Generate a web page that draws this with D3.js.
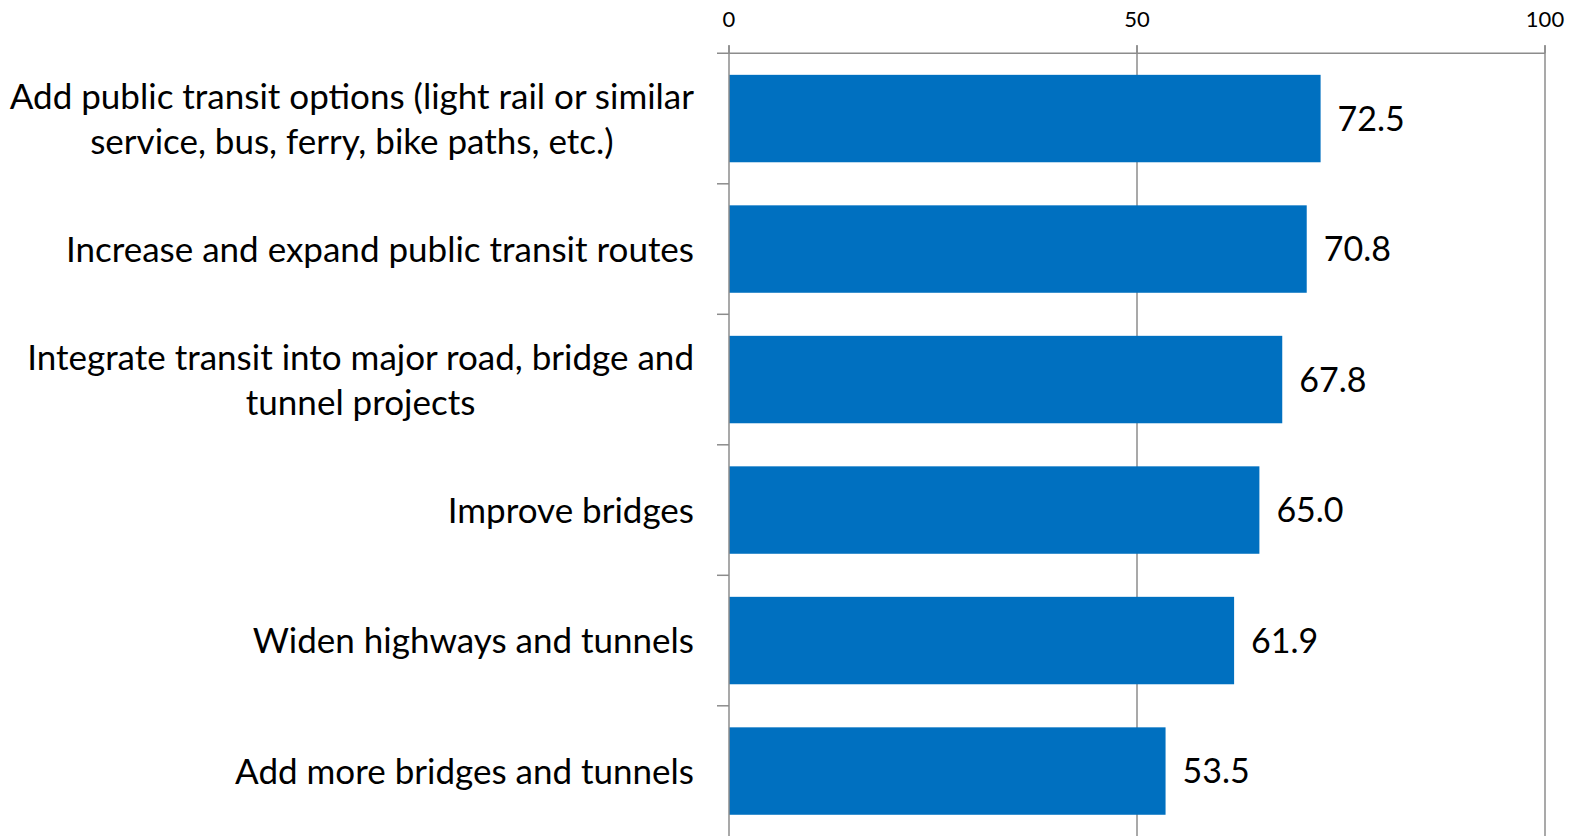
<!DOCTYPE html>
<html>
<head>
<meta charset="utf-8">
<script src="https://cdn.jsdelivr.net/npm/d3@7"></script>
<style>
  body { margin: 0; background: #fff; }
  text { font-family: Lato, "Open Sans", sans-serif; fill: #000; }
</style>
</head>
<body>
<script>
// categories, top to bottom; multi-line labels are split with "|"
const categories = [
  "Add public transit options (light rail or similar|service, bus, ferry, bike paths, etc.)",
  "Increase and expand public transit routes",
  "Integrate transit into major road, bridge and|tunnel projects",
  "Improve bridges",
  "Widen highways and tunnels",
  "Add more bridges and tunnels"
];
const values = [72.5, 70.8, 67.8, 65.0, 61.9, 53.5];
const tickValues = [0, 50, 100];

const width = 1579, height = 836;
const labelSize = 35;
const valueSize = 34;

const svg = d3.select("body").append("svg")
  .attr("width", width)
  .attr("height", height);

const x = d3.scaleLinear().domain([0, 100]).range([729, 1545]);
const y = d3.scaleBand().domain(d3.range(categories.length))
  .range([53.3, 836.3])
  .paddingInner(0.33)
  .paddingOuter(0.165);

// band boundaries for the left ticks
const step = y.step();
const y0 = 53.3;

// gridlines at 50 and 100 (behind the bars)
svg.selectAll("line.grid")
  .data(tickValues.filter((d) => d > 0))
  .enter()
  .append("line")
  .attr("class", "grid")
  .attr("x1", (d) => x(d))
  .attr("x2", (d) => x(d))
  .attr("y1", y0 - 8)
  .attr("y2", height)
  .attr("stroke", "#8c8c8c")
  .attr("stroke-width", 1.5);

// bars
svg.selectAll("rect.bar")
  .data(values)
  .enter()
  .append("rect")
  .attr("class", "bar")
  .attr("x", x(0))
  .attr("y", (d, i) => y(i))
  .attr("width", (d) => x(d) - x(0))
  .attr("height", y.bandwidth())
  .attr("fill", "#0070c0");

// top axis
const topAxis = svg.append("g");
topAxis.append("line")
  .attr("x1", x(0) - 12).attr("x2", x(100))
  .attr("y1", y0).attr("y2", y0)
  .attr("stroke", "#8c8c8c").attr("stroke-width", 1.5);
topAxis.selectAll("line.tick")
  .data(tickValues)
  .enter()
  .append("line")
  .attr("x1", (d) => x(d)).attr("x2", (d) => x(d))
  .attr("y1", y0 - 8).attr("y2", y0)
  .attr("stroke", "#8c8c8c").attr("stroke-width", 1.5);
topAxis.selectAll("text")
  .data(tickValues)
  .enter()
  .append("text")
  .attr("x", (d) => x(d))
  .attr("y", 27)
  .attr("text-anchor", "middle")
  .style("font-size", "22px")
  .text((d) => d);

// left axis line and ticks at band edges
svg.append("line")
  .attr("x1", x(0)).attr("x2", x(0))
  .attr("y1", y0 - 8).attr("y2", height)
  .attr("stroke", "#8c8c8c").attr("stroke-width", 1.5);
svg.selectAll("line.ytick")
  .data(d3.range(1, categories.length))
  .enter()
  .append("line")
  .attr("class", "ytick")
  .attr("x1", x(0) - 12).attr("x2", x(0))
  .attr("y1", (i) => y0 + i * step).attr("y2", (i) => y0 + i * step)
  .attr("stroke", "#8c8c8c").attr("stroke-width", 1.5);

// value labels
svg.selectAll("text.val")
  .data(values)
  .enter()
  .append("text")
  .attr("class", "val")
  .attr("x", (d) => x(d) + 17)
  .attr("y", (d, i) => y(i) + y.bandwidth() / 2)
  .attr("dy", "0.36em")
  .style("font-size", valueSize + "px")
  .text((d) => d3.format(".1f")(d));

// category labels: lines centred on each other, block right-aligned
const labelRight = 694;
categories.forEach((c, i) => {
  const lines = c.split("|");
  const cy = y(i) + y.bandwidth() / 2;
  const g = svg.append("g");
  const texts = lines.map((t, k) =>
    g.append("text")
      .attr("y", cy + (k - (lines.length - 1) / 2) * 45)
      .attr("dy", "0.36em")
      .style("font-size", labelSize + "px")
      .text(t)
  );
  const maxW = d3.max(texts, (t) => t.node().getComputedTextLength());
  texts.forEach((t) => {
    t.attr("x", labelRight - maxW / 2).attr("text-anchor", "middle");
  });
});
</script>
</body>
</html>
